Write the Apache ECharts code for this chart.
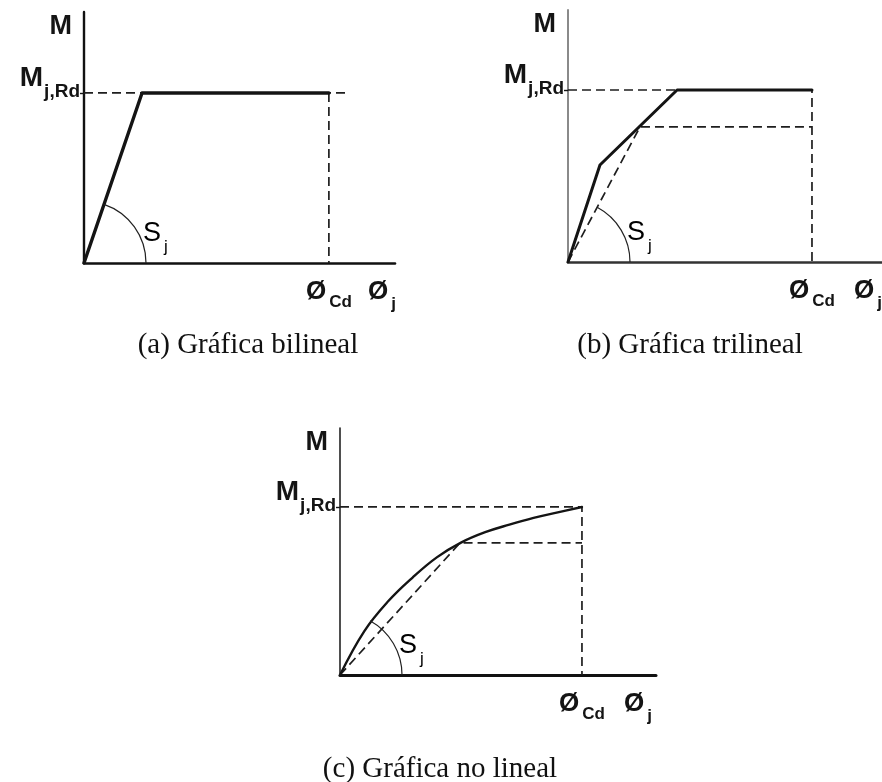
<!DOCTYPE html>
<html>
<head>
<meta charset="utf-8">
<script src="https://cdn.jsdelivr.net/npm/echarts@6/dist/echarts.min.js"></script>
<style>
  html, body { margin: 0; padding: 0; background: #ffffff; }
  #chart { width: 882px; height: 782px; }
</style>
</head>
<body>
<div id="chart"></div>
<script>
// Joint moment–rotation models. Rotations are in units of φ_Cd, moments in units of M_j,Rd.

// (a) bilinear model
const bilinPhi = [0, 0.237, 1.0];
const bilinM = [0, 1.0, 1.0];
const bilinLevelPhi = [0, 1.07];
const bilinLevelM = [1.0, 1.0];
const bilinCapPhi = [1.0, 1.0];
const bilinCapM = [1.0, 0];

// (b) trilinear model
const trilinPhi = [0, 0.131, 0.447, 1.0];
const trilinM = [0, 0.564, 1.0, 1.0];
const trilinSecantPhi = [0, 0.295, 1.0];
const trilinSecantM = [0, 0.785, 0.785];
const trilinLevelPhi = [0, 1.0, 1.0];
const trilinLevelM = [1.0, 1.0, 0];

// (c) non-linear model
const curvePhi = [0, 0.1, 0.2, 0.3, 0.4, 0.5, 0.6, 0.7, 0.8, 0.9, 1.0];
const curveM = [0, 0.26, 0.44, 0.58, 0.70, 0.788, 0.85, 0.895, 0.935, 0.968, 1.0];
const curveSecantPhi = [0, 0.496, 1.0];
const curveSecantM = [0, 0.786, 0.786];
const curveLevelPhi = [0, 1.0, 1.0];
const curveLevelM = [1.0, 1.0, 0];

// Direction of the stiffness line marked by the S_j arc in each panel
const stiffA = [0.237, 1.0];
const stiffB = [0.295, 0.785];
const stiffC = [0.1, 0.26];

// Axis ranges per panel
const xMaxes = [1.27, 1.287, 1.306];
const yMaxes = [1.476, 1.465, 1.47];

// Text
const captions = ['(a) Gráfica bilineal', '(b) Gráfica trilineal', '(c) Gráfica no lineal'];
const yAxisName = 'M';
const levelLabel = ['M', 'j,Rd'];
const capLabel = ['Ø', 'Cd'];
const rotLabel = ['Ø', 'j'];
const stiffLabel = ['S', 'j'];

const SANS = '"Liberation Sans", Arial, Helvetica, sans-serif';
const SERIF = '"Liberation Serif", "Times New Roman", serif';
const INK = '#141414';

const pairs = (xs, ys) => xs.map((x, i) => [x, ys[i]]);

const grids = [
  { left: 84, top: 12, width: 311, height: 251 },
  { left: 568, top: 10, width: 314, height: 252 },
  { left: 340, top: 428, width: 316, height: 247 }
];
const rotNameGaps = [1, 0, -4];

const axisStyles = [
  { x: { color: '#111', width: 2.6 }, y: { color: '#111', width: 2.4 } },
  { x: { color: '#333', width: 2.6 }, y: { color: '#8a8a8a', width: 2 } },
  { x: { color: '#111', width: 3 }, y: { color: '#222', width: 1.6 } }
];

const richPhi = {
  p: { fontFamily: SANS, fontSize: 26, fontWeight: 'bold', color: INK, lineHeight: 30 },
  c: { fontFamily: SANS, fontSize: 17, fontWeight: 'bold', color: INK, lineHeight: 30, padding: [20, 0, 0, 3] }
};
const richRot = {
  p: { fontFamily: SANS, fontSize: 26, fontWeight: 'bold', color: INK, lineHeight: 30 },
  c: { fontFamily: SANS, fontSize: 17, fontWeight: 'bold', color: INK, lineHeight: 30, padding: [24, 0, 0, 3] }
};
const richLevel = {
  m: { fontFamily: SANS, fontSize: 28, fontWeight: 'bold', color: INK, lineHeight: 30 },
  s: { fontFamily: SANS, fontSize: 19, fontWeight: 'bold', color: INK, lineHeight: 30, padding: [28, 0, 0, 1] }
};
const richStiff = {
  s: { fontFamily: SANS, fontSize: 27, color: INK, lineHeight: 30 },
  j: { fontFamily: SANS, fontSize: 17, color: INK, lineHeight: 30, padding: [26, 0, 0, 3] }
};

const xAxes = grids.map((g, i) => ({
  type: 'value', gridIndex: i, min: 0, max: xMaxes[i],
  splitLine: { show: false },
  axisLine: { show: true, onZero: false, lineStyle: axisStyles[i].x },
  axisTick: { show: false },
  axisLabel: {
    show: true, customValues: [1], margin: 14,
    formatter: () => '{p|' + capLabel[0] + '}{c|' + capLabel[1] + '}',
    rich: richPhi
  },
  name: '{p|' + rotLabel[0] + '}{c|' + rotLabel[1] + '}',
  nameLocation: 'end', nameGap: rotNameGaps[i],
  nameTextStyle: { align: 'right', verticalAlign: 'top', padding: [14, 0, 0, 0], rich: richRot }
}));

const yAxes = grids.map((g, i) => ({
  type: 'value', gridIndex: i, min: 0, max: yMaxes[i],
  splitLine: { show: false },
  axisLine: { show: true, onZero: false, lineStyle: axisStyles[i].y },
  axisTick: { show: true, customValues: [1], length: 4, lineStyle: { color: INK, width: 1.4 } },
  axisLabel: {
    show: true, customValues: [1], margin: 4, verticalAlign: 'bottom',
    formatter: () => '{m|' + levelLabel[0] + '}{s|' + levelLabel[1] + '}',
    rich: richLevel
  },
  name: yAxisName,
  nameLocation: 'end', nameGap: -1,
  nameTextStyle: {
    align: 'right', verticalAlign: 'top', padding: [0, 12, 0, 0],
    fontFamily: SANS, fontSize: 27, fontWeight: 'bold', color: INK
  }
}));

function solid(idx, xs, ys, width, smooth) {
  return {
    type: 'line', xAxisIndex: idx, yAxisIndex: idx, data: pairs(xs, ys),
    symbol: 'none', smooth: smooth || false, silent: true, z: 4,
    lineStyle: { color: INK, width: width, type: 'solid', cap: 'round', join: 'round' }
  };
}
function dashed(idx, xs, ys) {
  return {
    type: 'line', xAxisIndex: idx, yAxisIndex: idx, data: pairs(xs, ys),
    symbol: 'none', silent: true, z: 3,
    lineStyle: { color: '#1e1e1e', width: 1.7, type: [9, 5] }
  };
}
// Stiffness arc centred at the origin, swept from the φ axis up to the stiffness line, with its S_j label
function stiffness(idx, dir) {
  return {
    type: 'custom', xAxisIndex: idx, yAxisIndex: idx, data: [dir], clip: false, silent: true, z: 5,
    renderItem: (params, api) => {
      const o = api.coord([0, 0]);
      const p = api.coord([api.value(0), api.value(1)]);
      const ang = Math.atan2(p[1] - o[1], p[0] - o[0]);
      return {
        type: 'group',
        children: [
          {
            type: 'arc',
            shape: { cx: o[0], cy: o[1], r: 62, startAngle: ang, endAngle: 0, clockwise: true },
            style: { stroke: '#222', lineWidth: 1.2, fill: null }
          },
          {
            type: 'text', x: o[0] + 59, y: o[1] - 29,
            style: {
              text: '{s|' + stiffLabel[0] + '}{j|' + stiffLabel[1] + '}',
              rich: richStiff, align: 'left', verticalAlign: 'middle'
            }
          }
        ]
      };
    }
  };
}

const series = [
  dashed(0, bilinLevelPhi, bilinLevelM),
  dashed(0, bilinCapPhi, bilinCapM),
  solid(0, bilinPhi, bilinM, 3.4),
  stiffness(0, stiffA),

  dashed(1, trilinLevelPhi, trilinLevelM),
  dashed(1, trilinSecantPhi, trilinSecantM),
  solid(1, trilinPhi, trilinM, 3),
  stiffness(1, stiffB),

  dashed(2, curveLevelPhi, curveLevelM),
  dashed(2, curveSecantPhi, curveSecantM),
  solid(2, curvePhi, curveM, 2.4, 0.4),
  stiffness(2, stiffC)
];

const captionPos = [[248, 345], [690, 345], [440, 769]];

const chart = echarts.init(document.getElementById('chart'), null, { renderer: 'canvas' });
chart.setOption({
  backgroundColor: '#ffffff',
  animation: false,
  grid: grids.map(g => Object.assign({ containLabel: false, outerBoundsMode: 'none' }, g)),
  xAxis: xAxes,
  yAxis: yAxes,
  series: series,
  graphic: captions.map((t, i) => ({
    type: 'text', x: captionPos[i][0], y: captionPos[i][1], silent: true,
    style: {
      text: t, fill: '#111', align: 'center', verticalAlign: 'middle',
      font: '29px ' + SERIF
    }
  }))
});
</script>
</body>
</html>
